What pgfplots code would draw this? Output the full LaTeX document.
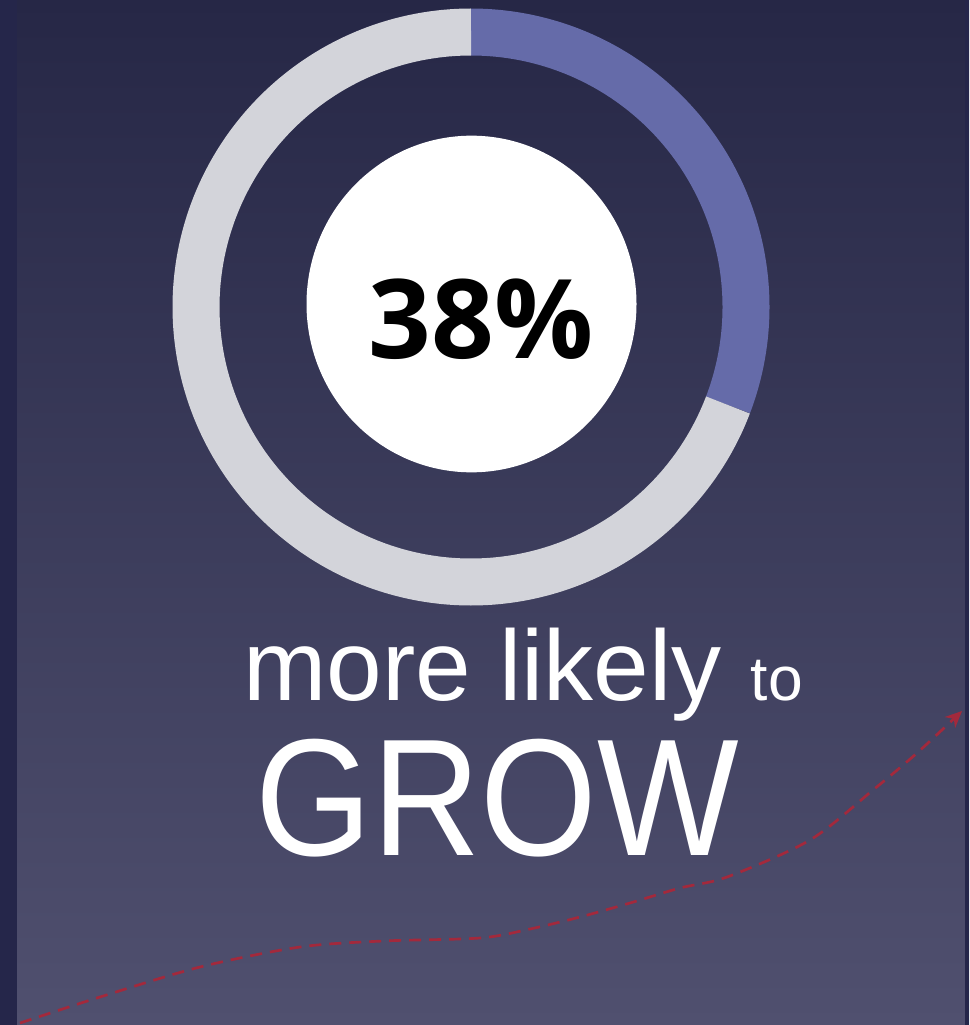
\documentclass[border=0pt]{standalone}
\usepackage{pgfplots}
\pgfplotsset{compat=1.18}
\usepackage{pgfplotstable}
\usetikzlibrary{arrows.meta}
\usepackage{fontspec}
\setmainfont{Liberation Sans}
\newfontfamily\opensans{Open Sans}
\definecolor{bgtop}{HTML}{262746}
\definecolor{bgbot}{HTML}{50506F}
\definecolor{strip}{HTML}{25264A}
\definecolor{ringgrey}{HTML}{D3D4DA}
\definecolor{ringpurp}{HTML}{656BA9}
\definecolor{arrowred}{HTML}{A3293C}
\pgfplotstableread{
label value
grow 30.8
rest 69.2
}\donutdata
\pgfplotstableread{
x y
20 1023
100 997
200 967
300 947
383 941
480 938
530 929
580 917
630 903
680 888
727 877
810 840
873 790
917 753
962 711
}\arrowdata
\begin{document}
\begin{tikzpicture}
\pgfplotstablegetelem{0}{value}\of\donutdata
\pgfmathsetmacro\aend{90-3.6*\pgfplotsretval}
\begin{axis}[
  scale only axis, width=290.7pt, height=307.5pt,
  xmin=0, xmax=969, ymin=0, ymax=1025, y dir=reverse,
  hide axis, clip=true,
]
\fill[top color=bgtop, bottom color=bgbot, shading angle=0] (axis cs:0,0) rectangle (axis cs:969,1025);
\fill[strip] (axis cs:0,0) rectangle (axis cs:17,1025);
\fill[strip] (axis cs:965,0) rectangle (axis cs:969,1025);
\addplot[domain=\aend:90, samples=150, line width=14.1pt, color=ringpurp, no markers, line cap=butt]
  ({471+275*cos(x)},{307-275*sin(x)});
\addplot[domain=-270:\aend, samples=300, line width=14.1pt, color=ringgrey, no markers, line cap=butt]
  ({471+275*cos(x)},{307-275*sin(x)});
\fill[white] (axis cs:471.5,304) ellipse [x radius=49.5pt, y radius=50.5pt];
\addplot[smooth, color=arrowred, line width=0.8pt, dash pattern=on 3.6pt off 2.4pt, -{Stealth[length=5pt,width=4.5pt]}, no markers]
  table[x=x,y=y] {\arrowdata};
\node[anchor=base west, inner sep=0pt, text=black] at (axis cs:368,358) {\opensans\bfseries\fontsize{33}{35}\selectfont 38\%};
\node[anchor=base west, inner sep=0pt, text=white] at (axis cs:243,700) {\fontsize{30}{32}\selectfont more likely};
\node[anchor=base west, inner sep=0pt, text=white] at (axis cs:750,700) {\fontsize{18.7}{20}\selectfont to};
\node[anchor=base west, inner sep=0pt, text=white, xscale=0.9] at (axis cs:255,855) {\fontsize{50}{52}\selectfont GROW};
\end{axis}
\end{tikzpicture}
\end{document}
